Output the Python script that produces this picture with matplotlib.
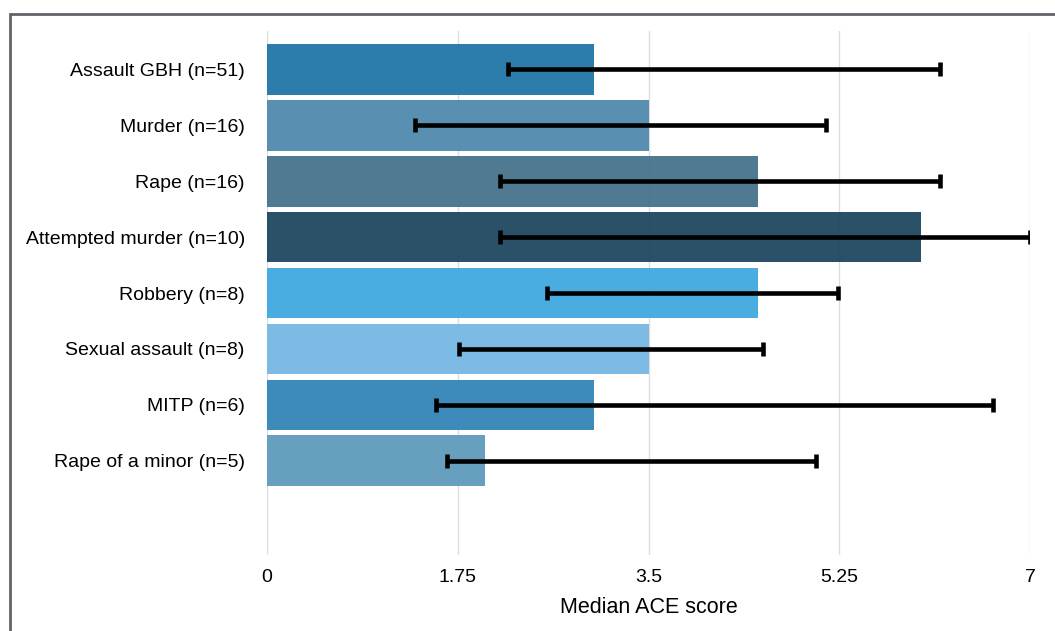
import matplotlib
matplotlib.use("Agg")
import matplotlib.pyplot as plt
from matplotlib.patches import Rectangle

# ---------- data ----------
offences = ["Assault GBH (n=51)", "Murder (n=16)", "Rape (n=16)",
            "Attempted murder (n=10)", "Robbery (n=8)",
            "Sexual assault (n=8)", "MITP (n=6)", "Rape of a minor (n=5)"]
median_ace = [3, 3.5, 4.5, 6, 4.5, 3.5, 3, 2]
range_low = [2.21, 1.36, 2.14, 2.14, 2.57, 1.76, 1.55, 1.65]
range_high = [6.17, 5.13, 6.17, 7.0, 5.24, 4.55, 6.66, 5.04]
bar_colors = ["#2176a8", "#5089ac", "#45738b", "#1f4760",
              "#3fa9e0", "#77b8e3", "#3285b8", "#5f9bbc"]
x_ticks = [0, 1.75, 3.5, 5.25, 7]
x_tick_labels = ["0", "1.75", "3.5", "5.25", "7"]

plt.rcParams["font.family"] = ["Liberation Sans", "DejaVu Sans"]

fig = plt.figure(figsize=(10.55, 6.31), dpi=100)
ax = fig.add_axes([0.2531, 0.1204, 0.7232, 0.8305])

# outer frame running off the right and bottom edges
fig.patches.append(Rectangle((10 / 1055, -0.05), 1.2, 1 - 14 / 631 + 0.05,
                             transform=fig.transFigure, fill=False,
                             edgecolor="#606469", linewidth=2))

ypos = list(range(len(offences)))
ax.barh(ypos, median_ace, height=0.91, color=bar_colors, alpha=0.95,
        edgecolor="none", zorder=2)

# min/max whiskers
for y, lo, hi in zip(ypos, range_low, range_high):
    ax.plot([lo, hi], [y, y], color="black", lw=3.3, zorder=3,
            solid_capstyle="butt")
    for x in (lo, hi):
        ax.plot([x, x], [y - 0.13, y + 0.13], color="black", lw=3.3, zorder=3,
                solid_capstyle="butt")

ax.set_xlim(0, 7)
ax.set_ylim(len(offences) - 1 + 1.68, -0.68)
ax.set_xticks(x_ticks)
ax.set_xticklabels(x_tick_labels)
ax.set_yticks(ypos)
ax.set_yticklabels(offences)
ax.tick_params(axis="both", length=0, labelsize=14, colors="black")
ax.tick_params(axis="y", pad=16)
ax.tick_params(axis="x", pad=10)
ax.grid(axis="x", color="#dddddd", linewidth=1, zorder=1)
ax.set_axisbelow(True)
for s in ax.spines.values():
    s.set_visible(False)
ax.set_xlabel("Median ACE score", fontsize=15.5, labelpad=8)

fig.savefig("out.png", dpi=100)
